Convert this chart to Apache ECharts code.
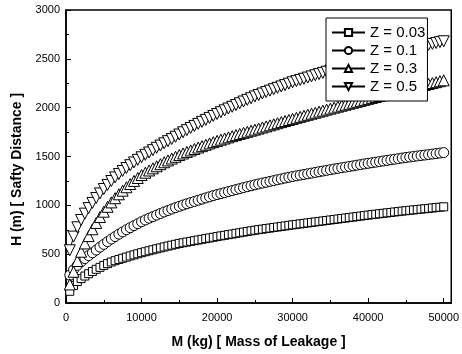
<!DOCTYPE html>
<html>
<head>
<meta charset="utf-8">
<script src="https://cdn.jsdelivr.net/npm/echarts@6/dist/echarts.min.js"></script>
<style>
html,body{margin:0;padding:0;background:#fff;}
#chart{width:462px;height:354px;}
</style>
</head>
<body>
<div id="chart"></div>
<script>
// Mass of leakage M (kg)
var massKg = [500,1000,1500,2000,2500,3000,3500,4000,4500,5000,5500,6000,6500,7000,7500,8000,8500,9000,9500,10000,
10500,11000,11500,12000,12500,13000,13500,14000,14500,15000,15500,16000,16500,17000,17500,18000,18500,19000,19500,20000,
20500,21000,21500,22000,22500,23000,23500,24000,24500,25000,25500,26000,26500,27000,27500,28000,28500,29000,29500,30000,
30500,31000,31500,32000,32500,33000,33500,34000,34500,35000,35500,36000,36500,37000,37500,38000,38500,39000,39500,40000,
40500,41000,41500,42000,42500,43000,43500,44000,44500,45000,45500,46000,46500,47000,47500,48000,48500,49000,49500,50000];

// Safety distance H (m)
var hZ003 = [120,180,220,250,276,300,323,345,365,385,403,420,433,446,458,470,482,493,504,515,
525,535,545,555,564,574,583,592,601,610,617,624,631,638,645,652,659,666,673,680,
687,693,700,706,713,719,726,732,739,745,751,756,762,767,773,778,784,789,795,800,
805,810,815,820,825,830,835,840,845,850,855,860,865,870,875,880,885,890,895,900,
905,909,914,918,923,927,932,936,941,945,949,953,957,961,965,969,973,977,981,985];

var hZ01 = [285,340,385,422,455,485,514,542,572,600,628,655,680,705,728,750,771,792,812,832,
850,868,884,900,916,932,947,962,976,990,1003,1016,1028,1040,1052,1064,1076,1087,1099,1110,
1120,1130,1141,1151,1161,1171,1181,1191,1200,1210,1219,1228,1236,1245,1253,1262,1270,1279,1287,1295,
1302,1309,1316,1323,1330,1337,1344,1351,1358,1365,1372,1378,1385,1391,1398,1404,1411,1417,1424,1430,
1436,1442,1448,1454,1460,1466,1472,1478,1484,1490,1495,1500,1505,1510,1515,1520,1525,1530,1535,1540];

var hZ03 = [190,320,430,525,610,685,755,820,880,935,985,1030,1073,1113,1150,1185,1218,1250,1280,1310,
1334,1357,1379,1400,1421,1441,1460,1479,1497,1515,1531,1547,1562,1577,1592,1606,1620,1634,1647,1660,
1672,1684,1696,1708,1719,1731,1742,1753,1764,1775,1786,1797,1808,1819,1830,1841,1852,1863,1874,1885,
1896,1906,1917,1927,1938,1948,1959,1969,1980,1990,2000,2010,2020,2030,2040,2050,2060,2070,2080,2090,
2100,2109,2119,2128,2138,2147,2157,2166,2176,2185,2195,2204,2214,2223,2233,2242,2252,2261,2271,2280];

var hZ05 = [540,680,775,850,915,972,1025,1075,1122,1167,1209,1249,1286,1320,1352,1382,1411,1439,1466,1492,
1517,1541,1565,1589,1612,1635,1657,1679,1702,1725,1748,1770,1792,1813,1834,1855,1875,1895,1915,1935,
1954,1973,1991,2009,2027,2045,2063,2080,2097,2115,2130,2145,2160,2174,2189,2203,2217,2231,2246,2260,
2272,2284,2296,2308,2320,2332,2344,2356,2368,2380,2391,2402,2413,2424,2435,2446,2457,2468,2479,2490,
2500,2510,2520,2530,2540,2550,2560,2570,2580,2590,2599,2608,2617,2626,2635,2644,2653,2662,2671,2680];

var seriesNames = ['Z = 0.03', 'Z = 0.1', 'Z = 0.3', 'Z = 0.5'];
var xTickLabels = ['0','10000','20000','30000','40000','50000'];
var yTickLabels = ['0','500','1000','1500','2000','2500','3000'];

var FONT = 'Liberation Sans, Arial, Helvetica, sans-serif';

function pairs(ys){
  var out = [];
  for (var i = 0; i < massKg.length; i++) out.push([massKg[i], ys[i]]);
  return out;
}

function mk(name, ys, symbol, size, rotate){
  return {
    name: name,
    type: 'line',
    data: pairs(ys),
    symbol: symbol,
    symbolSize: size,
    symbolRotate: rotate || 0,
    showAllSymbol: true,
    animation: false,
    lineStyle: {color: '#000', width: 1},
    itemStyle: {color: '#fff', borderColor: '#000', borderWidth: 1}
  };
}

var chart = echarts.init(document.getElementById('chart'));
chart.setOption({
  animation: false,
  backgroundColor: '#fff',
  grid: {left: 66, right: 10, top: 10, bottom: 48, show: true, borderColor: '#000', borderWidth: 1.5, backgroundColor: 'transparent'},
  legend: {
    orient: 'vertical',
    left: 326, top: 18,
    data: seriesNames,
    backgroundColor: '#fff',
    borderColor: '#000',
    borderWidth: 1,
    borderRadius: 0,
    padding: [7, 2, 7, 5],
    itemGap: 3,
    itemWidth: 33,
    itemHeight: 9,
    textStyle: {fontFamily: FONT, fontSize: 15, color: '#000'},
    inactiveColor: '#000'
  },
  xAxis: {
    type: 'value',
    min: 0, max: 51000, interval: 10000,
    name: 'M (kg) [ Mass of Leakage ]',
    nameLocation: 'middle',
    nameGap: 32,
    nameTextStyle: {fontFamily: FONT, fontSize: 14, fontWeight: 'bold', color: '#000'},
    axisLine: {lineStyle: {color: '#000', width: 1.5}},
    axisTick: {inside: true, length: 5, lineStyle: {color: '#000', width: 1}},
    minorTick: {show: true, splitNumber: 2, length: 3, lineStyle: {color: '#000', width: 1}},
    splitLine: {show: false},
    axisLabel: {
      fontFamily: FONT, fontSize: 11, color: '#000', margin: 9,
      formatter: function(v){ var i = xTickLabels.indexOf(String(v)); return i >= 0 ? xTickLabels[i] : ''; }
    }
  },
  yAxis: {
    type: 'value',
    min: 0, max: 3000, interval: 500,
    name: 'H (m) [ Safty Distance ]',
    nameLocation: 'middle',
    nameGap: 35,
    nameTextStyle: {fontFamily: FONT, fontSize: 14, fontWeight: 'bold', color: '#000', padding: [0, 26, 0, 0]},
    axisLine: {show: true, lineStyle: {color: '#000', width: 1.5}},
    axisTick: {show: true, inside: true, length: 5, lineStyle: {color: '#000', width: 1}},
    minorTick: {show: true, splitNumber: 2, length: 3, lineStyle: {color: '#000', width: 1}},
    splitLine: {show: false},
    axisLabel: {
      fontFamily: FONT, fontSize: 11, color: '#000', margin: 6,
      formatter: function(v){ var i = yTickLabels.indexOf(String(v)); return i >= 0 ? yTickLabels[i] : ''; }
    }
  },
  series: [
    mk(seriesNames[0], hZ003, 'rect', 8),
    mk(seriesNames[1], hZ01, 'circle', 10),
    mk(seriesNames[2], hZ03, 'triangle', 11),
    mk(seriesNames[3], hZ05, 'triangle', 11, 180)
  ]
});
</script>
</body>
</html>
